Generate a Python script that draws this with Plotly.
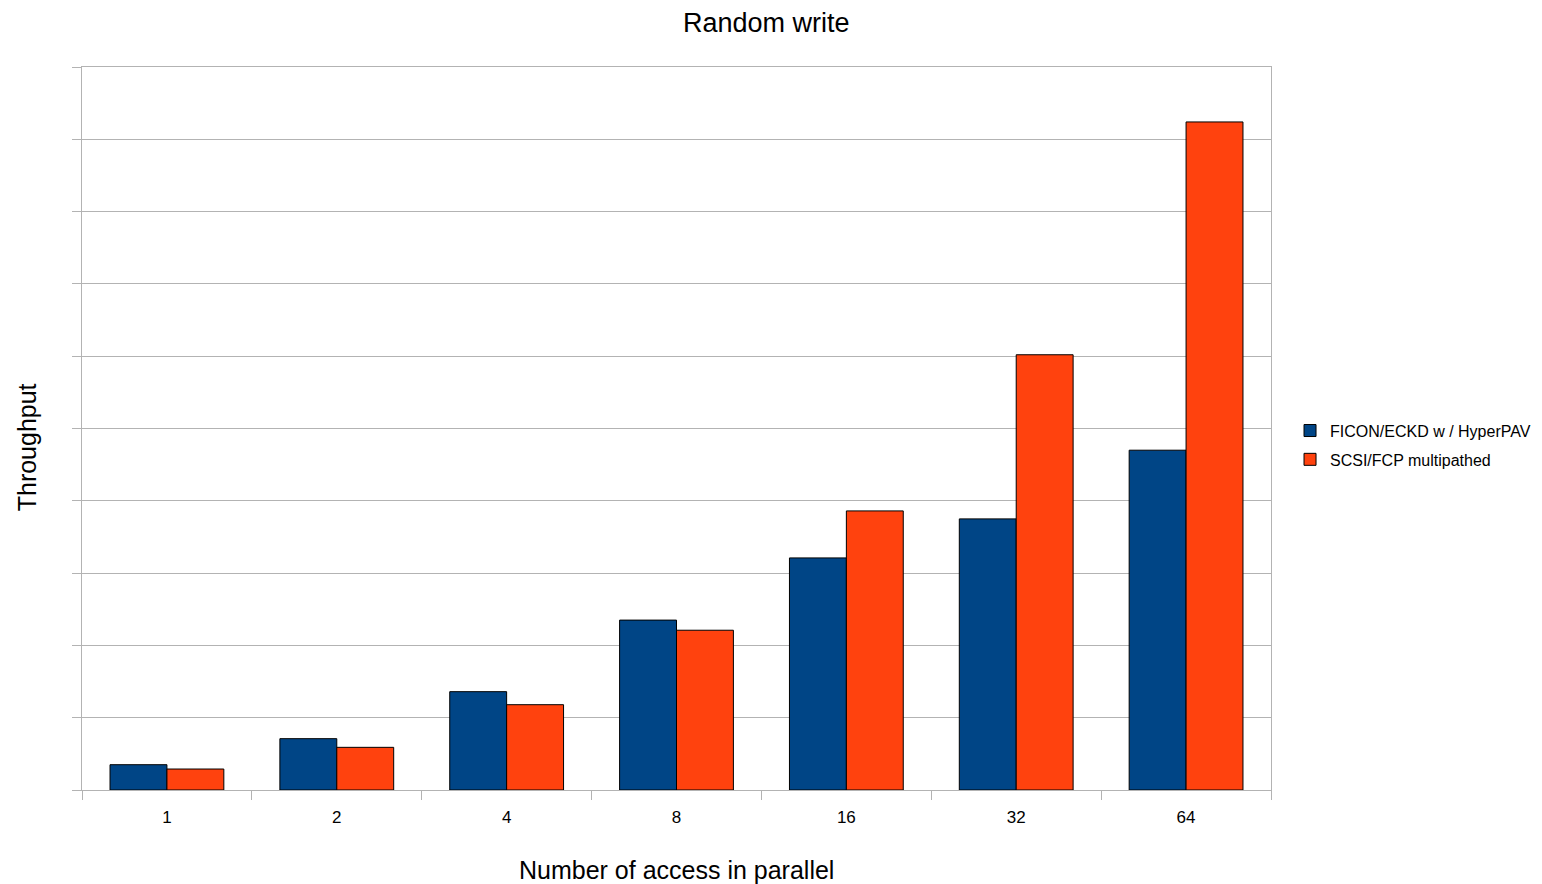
import plotly.graph_objects as go

categories = ["1", "2", "4", "8", "16", "32", "64"]
ficon_eckd = [0.35, 0.71, 1.36, 2.35, 3.21, 3.75, 4.70]
scsi_fcp = [0.29, 0.59, 1.18, 2.21, 3.86, 6.02, 9.24]
series_names = ["FICON/ECKD w / HyperPAV", "SCSI/FCP multipathed"]

FONT = "Liberation Sans, Arial, sans-serif"
GRID = "#b3b3b3"

fig = go.Figure()
fig.add_trace(go.Bar(x=categories, y=ficon_eckd, name=series_names[0], legendgroup="a",
                     marker=dict(color="#004586", line=dict(color="#000000", width=1))))
fig.add_trace(go.Bar(x=categories, y=scsi_fcp, name=series_names[1], legendgroup="b",
                     marker=dict(color="#ff420e", line=dict(color="#000000", width=1))))

fig.update_layout(
    width=1542, height=884,
    margin=dict(l=82, r=271, t=67, b=94, autoexpand=False),
    paper_bgcolor="white", plot_bgcolor="white",
    barmode="group", bargap=0.33, bargroupgap=0,
    font=dict(family=FONT, color="#000000"),
    showlegend=True,
    legend=dict(x=1.016, y=0.477, xanchor="left", yanchor="middle",
                font=dict(size=16, family=FONT), itemwidth=30,
                traceorder="grouped", tracegroupgap=5,
                bgcolor="rgba(0,0,0,0)"),
    annotations=[
        dict(text="Random write", xref="paper", yref="paper", x=0.576, y=1, yshift=44,
             showarrow=False, font=dict(size=27, family=FONT), xanchor="center", yanchor="middle"),
        dict(text="Throughput", xref="paper", yref="paper", x=0, xshift=-55, y=0.474,
             textangle=-90, showarrow=False, font=dict(size=25, family=FONT),
             xanchor="center", yanchor="middle"),
        dict(text="Number of access in parallel", xref="paper", yref="paper", x=0.5, y=0,
             yshift=-80, showarrow=False, font=dict(size=25, family=FONT),
             xanchor="center", yanchor="middle"),
    ],
)
fig.update_xaxes(type="category", tickson="boundaries", ticks="outside", ticklen=9,
                 tickcolor=GRID, showgrid=False, showline=True, linecolor=GRID,
                 mirror=True, tickfont=dict(size=17, family=FONT), ticklabelstandoff=12)
fig.update_yaxes(range=[0, 10], dtick=1, showticklabels=False, ticks="outside", ticklen=9,
                 tickcolor=GRID, gridcolor=GRID, showline=True, linecolor=GRID,
                 mirror=True, zeroline=False)

fig.write_html("out.html")
